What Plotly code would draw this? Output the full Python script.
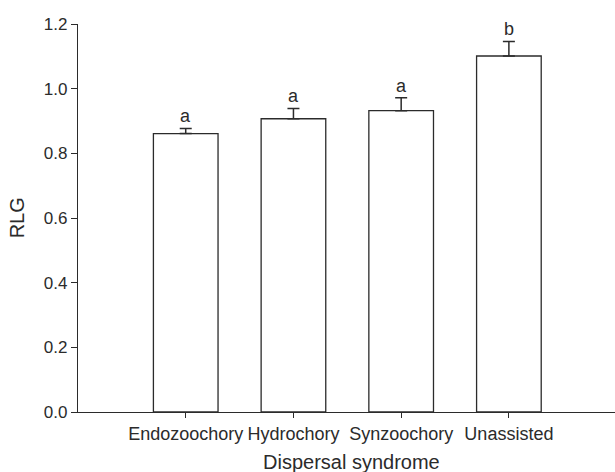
import plotly.graph_objects as go

# Relative log growth (RLG) by dispersal syndrome, mean + SE
syndromes = ["Endozoochory", "Hydrochory", "Synzoochory", "Unassisted"]
rlg_mean = [0.861, 0.907, 0.932, 1.101]
rlg_se = [0.016, 0.032, 0.040, 0.045]
group_letters = ["a", "a", "a", "b"]

y_ticks = [0.0, 0.2, 0.4, 0.6, 0.8, 1.0, 1.2]

FONT = "Liberation Sans, Arial, Helvetica, sans-serif"
INK = "#2b2b2b"

positions = list(range(len(syndromes)))

fig = go.Figure()
fig.add_trace(go.Bar(
    x=positions,
    y=rlg_mean,
    width=0.6,
    marker=dict(color="white", line=dict(color=INK, width=1.3)),
    error_y=dict(
        type="data",
        symmetric=False,
        array=rlg_se,
        arrayminus=[0] * len(rlg_se),
        color=INK,
        thickness=1.5,
        width=6,
    ),
    showlegend=False,
    hoverinfo="skip",
))

# significance letters above each error bar
for xi, m, se, letter in zip(positions, rlg_mean, rlg_se, group_letters):
    fig.add_annotation(
        x=xi, y=m + se, xref="x", yref="y",
        text=letter, showarrow=False,
        xanchor="center", yanchor="bottom", yshift=0,
        font=dict(family=FONT, size=18, color=INK),
    )

# axis titles
fig.add_annotation(
    x=0.5096, y=-0.004, xref="paper", yref="paper",
    text="Dispersal syndrome", showarrow=False,
    xanchor="center", yanchor="top", yshift=-35,
    font=dict(family=FONT, size=20, color=INK),
)
fig.add_annotation(
    x=-0.113, y=0.5, xref="paper", yref="paper",
    text="RLG", showarrow=False, textangle=-90,
    xanchor="center", yanchor="middle",
    font=dict(family=FONT, size=20, color=INK),
)

fig.update_layout(
    width=615, height=472,
    margin=dict(l=78, r=0, t=24, b=60),
    plot_bgcolor="white", paper_bgcolor="white",
    font=dict(family=FONT, color=INK),
    bargap=0.4,
)
fig.update_xaxes(
    range=[-1.0, 3.985],
    tickmode="array", tickvals=positions, ticktext=syndromes,
    showline=True, linecolor=INK, linewidth=1.3,
    ticks="outside", ticklen=5, tickcolor=INK, tickwidth=1.3,
    showgrid=False, zeroline=False,
    tickfont=dict(family=FONT, size=18, color=INK),
)
fig.update_yaxes(
    range=[0, 1.2],
    tickmode="array", tickvals=y_ticks, tickformat=".1f",
    showline=True, linecolor=INK, linewidth=1.3,
    ticks="outside", ticklen=6, tickcolor=INK, tickwidth=1.3,
    showgrid=False, zeroline=False,
    tickfont=dict(family=FONT, size=17, color=INK),
)

fig.write_html("out.html")
